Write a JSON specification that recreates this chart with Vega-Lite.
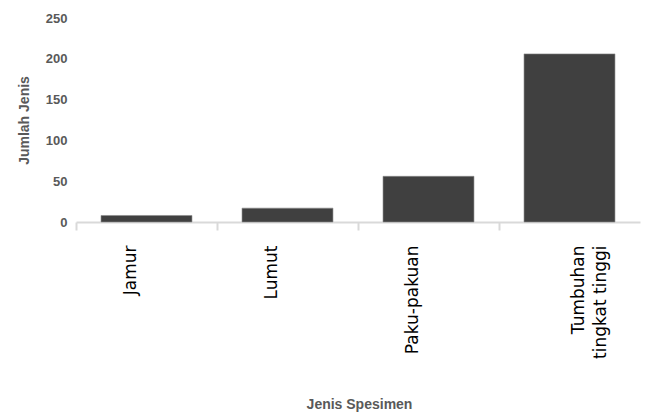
{
  "$schema": "https://vega.github.io/schema/vega-lite/v6.json",
  "autosize": "none",
  "width": 564,
  "height": 204,
  "padding": {"left": 76, "top": 18, "right": 6, "bottom": 192},
  "background": "white",
  "config": {"view": {"stroke": null}},
  "data": {
    "values": [
      {"jenis": "Jamur", "jumlah": 8},
      {"jenis": "Lumut", "jumlah": 17},
      {"jenis": "Paku-pakuan", "jumlah": 56},
      {"jenis": "Tumbuhan tingkat tinggi", "jumlah": 206}
    ]
  },
  "mark": {"type": "bar", "color": "#404040", "stroke": "#8a8a8a", "strokeWidth": 0.6},
  "encoding": {
    "x": {
      "field": "jenis",
      "type": "nominal",
      "sort": null,
      "scale": {"paddingInner": 0.355, "paddingOuter": 0.1775},
      "axis": {
        "title": "Jenis Spesimen",
        "titleFont": "Liberation Sans",
        "titleFontSize": 14,
        "titleFontWeight": "bold",
        "titleColor": "#595959",
        "titleX": 283,
        "titleY": 182,
        "titleBaseline": "middle",
        "labelAngle": -90,
        "labelAlign": "right",
        "labelBaseline": "middle",
        "labelFont": "DejaVu Sans",
        "labelFontSize": 17,
        "labelColor": "#000000",
        "labelPadding": 15,
        "labelLineHeight": 22,
        "labelExpr": "datum.label == 'Tumbuhan tingkat tinggi' ? ['Tumbuhan', 'tingkat tinggi'] : datum.label",
        "labelOffset": {"condition": {"test": "datum.value == 'Tumbuhan tingkat tinggi'", "value": 9}, "value": -16},
        "domainColor": "#d9d9d9",
        "domainWidth": 2,
        "tickColor": "#d9d9d9",
        "tickWidth": 2,
        "tickSize": 8,
        "bandPosition": -0.275,
        "grid": false
      }
    },
    "y": {
      "field": "jumlah",
      "type": "quantitative",
      "scale": {"domain": [0, 250]},
      "axis": {
        "title": "Jumlah Jenis",
        "titleFont": "Liberation Sans",
        "titleFontSize": 14,
        "titleFontWeight": "bold",
        "titleColor": "#595959",
        "titleX": -52,
        "titleY": 102,
        "titleBaseline": "middle",
        "values": [0, 50, 100, 150, 200, 250],
        "labelFont": "Liberation Sans",
        "labelFontSize": 13,
        "labelFontWeight": "bold",
        "labelColor": "#595959",
        "labelPadding": 9,
        "domain": false,
        "ticks": false,
        "grid": false
      }
    }
  }
}
